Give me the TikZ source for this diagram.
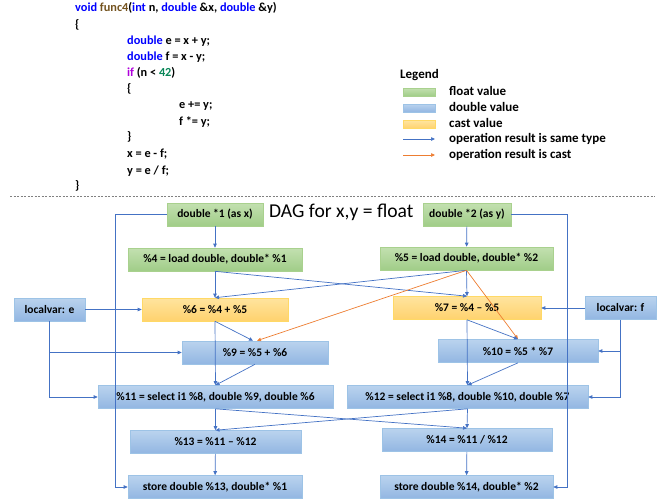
\documentclass[tikz,border=0pt]{standalone}
\usepackage{fontspec}
\setmainfont{Carlito}
\usetikzlibrary{arrows.meta,calc}
\definecolor{lblue}{RGB}{68,114,196}
\definecolor{lorange}{RGB}{237,125,49}
\definecolor{gtop}{RGB}{195,224,176}
\definecolor{gbot}{RGB}{160,205,136}
\definecolor{gbrd}{RGB}{169,209,142}
\definecolor{btop}{RGB}{186,211,238}
\definecolor{bbot}{RGB}{146,182,226}
\definecolor{bbrd}{RGB}{157,195,230}
\definecolor{otop}{RGB}{255,228,158}
\definecolor{obot}{RGB}{255,210,110}
\definecolor{obrd}{RGB}{255,217,102}
\definecolor{kwblue}{RGB}{0,0,255}
\definecolor{fnbrown}{RGB}{116,83,31}
\definecolor{kwpurple}{RGB}{175,0,219}
\definecolor{numgreen}{RGB}{9,134,88}
\tikzset{
  box/.style={draw, line width=0.6pt, minimum height=23pt, inner sep=0pt, font=\bfseries\fontsize{11.5}{13}\selectfont},
  flt/.style={box, draw=gbrd, top color=gtop, bottom color=gbot},
  dbl/.style={box, draw=bbrd, top color=btop, bottom color=bbot},
  cst/.style={box, draw=obrd, top color=otop, bottom color=obot},
  ed/.style={draw=lblue, line width=0.7pt, -{Triangle[length=4pt,width=3.5pt]}},
  edo/.style={draw=lorange, line width=0.7pt, -{Triangle[length=4pt,width=3.5pt]}},
  code/.style={anchor=west, inner sep=0pt, font=\bfseries\fontsize{12.3}{14}\selectfont},
  leg/.style={anchor=west, inner sep=0pt, font=\bfseries\fontsize{13}{15}\selectfont},
  swatch/.style={minimum width=32pt, minimum height=8pt, inner sep=0pt, line width=0.5pt}
}
\begin{document}
\begin{tikzpicture}[x=1pt,y=-1pt]
\useasboundingbox (0,0) rectangle (665,504);
% code
\node[code] (c1) at (75,7.5) {\textcolor{kwblue}{void} \textcolor{fnbrown}{func4}(\textcolor{kwblue}{int} n, \textcolor{kwblue}{double} \&x, \textcolor{kwblue}{double} \&y)};
\node[code] (c2) at (75,25) {\{};
\node[code] (c3) at (127,41) {\textcolor{kwblue}{double} e = x + y;};
\node[code] (c4) at (127,57) {\textcolor{kwblue}{double} f = x - y;};
\node[code] (c5) at (127,73) {\textcolor{kwpurple}{if} (n < \textcolor{numgreen}{42})};
\node[code] (c6) at (127,89) {\{};
\node[code] (c7) at (179,106) {e += y;};
\node[code] (c8) at (179,122) {f *= y;};
\node[code] (c9) at (127,137) {\}};
\node[code] (c10) at (127,154) {x = e - f;};
\node[code] (c11) at (127,171) {y = e / f;};
\node[code] (c12) at (75,186) {\}};
% separator
\coordinate (sepl) at (10,196);
\coordinate (sepr) at (655,196);
\draw[gray, line width=0.5pt, dash pattern=on 2pt off 1.5pt] (sepl) -- (sepr);
% legend
\node[leg] (lg) at (400,75) {Legend};
\node[swatch, draw=gbrd, top color=gtop, bottom color=gbot] (sw1) at (419,92) {};
\node[swatch, draw=bbrd, top color=btop, bottom color=bbot] (sw2) at (419,108) {};
\node[swatch, draw=obrd, top color=otop, bottom color=obot] (sw3) at (419,124.5) {};
\coordinate (la1) at (403,139);
\coordinate (lb1) at (435,139);
\coordinate (la2) at (403,155);
\coordinate (lb2) at (435,155);
\draw[ed] (la1) -- (lb1);
\draw[edo] (la2) -- (lb2);
\node[leg] (lt1) at (449,91) {float value};
\node[leg] (lt2) at (449,107) {double value};
\node[leg] (lt3) at (449,123) {cast value};
\node[leg] (lt4) at (449,139) {operation result is same type};
\node[leg] (lt5) at (449,155) {operation result is cast};
% title
\node[anchor=west, inner sep=0pt, font=\fontsize{19.6}{22}\selectfont] (title) at (269,212) {DAG for x,y = float};
% nodes
\node[flt, minimum width=96pt] (d1) at (215,214.5) {double *1 (as x)};
\node[flt, minimum width=88pt] (d2) at (467,214.5) {double *2 (as y)};
\node[flt, minimum width=174pt] (n4) at (215,259.5) {\%4 = load double, double* \%1};
\node[flt, minimum width=173pt] (n5) at (466.5,258.5) {\%5 = load double, double* \%2};
\node[dbl, minimum width=71pt] (le) at (49.5,309.5) {localvar: e};
\node[cst, minimum width=146pt] (n6) at (215,309.5) {\%6 = \%4 + \%5};
\node[cst, minimum width=148pt] (n7) at (467,308) {\%7 = \%4 -- \%5};
\node[dbl, minimum width=71pt] (lf) at (620.5,308) {localvar: f};
\node[dbl, minimum width=146pt] (n9) at (255,352.5) {\%9 = \%5 + \%6};
\node[dbl, minimum width=160pt] (n10) at (518,351) {\%10 = \%5 * \%7};
\node[dbl, minimum width=235pt] (n11) at (215.5,397) {\%11 = select i1 \%8, double \%9, double \%6};
\node[dbl, minimum width=241pt] (n12) at (467.5,397) {\%12 = select i1 \%8, double \%10, double \%7};
\node[dbl, minimum width=171pt] (n13) at (215.5,442) {\%13 = \%11 -- \%12};
\node[dbl, minimum width=170pt] (n14) at (467,440) {\%14 = \%11 / \%12};
\node[dbl, minimum width=174pt] (s13) at (215,487) {store double \%13, double* \%1};
\node[dbl, minimum width=173pt] (s14) at (466.5,487) {store double \%14, double* \%2};
% helper coordinates
\coordinate (xl) at (115,0);
\coordinate (xr) at (567,0);
% edges
\draw[ed] (d1) -- (n4);
\draw[ed] (d2) -- (n5);
\draw[ed] (d1.west) -- (d1.west -| xl) |- (s13.west);
\draw[ed] (d2.east) -- (d2.east -| xr) |- (s14.east);
\draw[ed] (n4.south) -- (n6.north);
\draw[ed] (n4.south) -- (n7.north);
\draw[ed] (n5.south) -- (n6.north);
\draw[ed] (n5.south) -- (n7.north);
\draw[edo] (n5.south) -- ([xshift=2pt]n9.north);
\draw[edo] (n5.south) -- (n10.north);
\draw[ed] (le.east) -- (n6.west);
\draw[ed] (le.south) |- (n9.west);
\draw[ed] (le.south) |- (n11.west);
\draw[ed] (lf.west) -- (n7.east);
\draw[ed] (lf.south) |- (n10.east);
\draw[ed] (lf.south) |- (n12.east);
\draw[ed] (n6.south) -- ([xshift=-2pt]n9.north);
\draw[ed] (n6.south) -- (n11.north);
\draw[ed] (n9.south) -- (n11.north);
\draw[ed] (n7.south) -- (n10.north);
\draw[ed] (n7.south) -- (n12.north);
\draw[ed] (n10.south) -- (n12.north);
\draw[ed] (n11.south) -- (n13.north);
\draw[ed] (n11.south) -- (n14.north);
\draw[ed] (n12.south) -- (n13.north);
\draw[ed] (n12.south) -- (n14.north);
\draw[ed] (n13) -- (s13);
\draw[ed] (n14) -- (s14);
\end{tikzpicture}
\end{document}
